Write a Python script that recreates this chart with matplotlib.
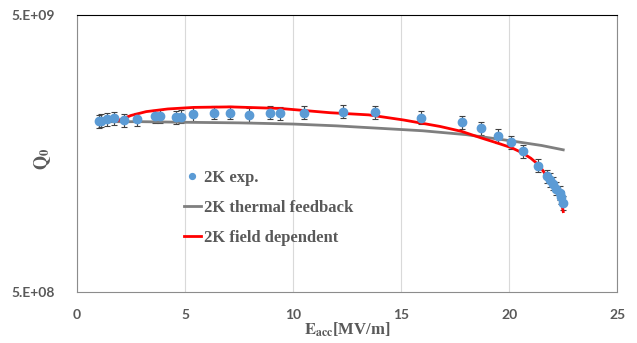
import matplotlib
matplotlib.use("Agg")
import matplotlib.pyplot as plt
from matplotlib.ticker import FixedLocator, NullLocator

# measured points (2K)
e_exp = [1.0, 1.1, 1.37, 1.73, 2.19, 2.79, 3.61, 3.84, 4.58, 4.80, 5.38, 6.34, 7.10,
         7.96, 8.94, 9.41, 10.48, 12.33, 13.80, 15.93, 17.82, 18.70, 19.48, 20.06,
         20.66, 21.31, 21.76, 21.90, 22.02, 22.18, 22.33, 22.41, 22.49]
q_exp = [2.07e9, 2.08e9, 2.10e9, 2.12e9, 2.09e9, 2.10e9, 2.16e9, 2.16e9, 2.14e9, 2.15e9,
         2.20e9, 2.22e9, 2.22e9, 2.18e9, 2.22e9, 2.21e9, 2.22e9, 2.24e9, 2.23e9, 2.13e9,
         2.05e9, 1.95e9, 1.83e9, 1.74e9, 1.61e9, 1.43e9, 1.31e9, 1.27e9, 1.23e9,
         1.18e9, 1.14e9, 1.10e9, 1.05e9]
err_frac = 0.055

# thermal feedback model
e_tf = [1.0, 3.0, 5.0, 7.5, 10.0, 12.0, 14.0, 16.0, 18.0, 20.0, 21.5, 22.5]
q_tf = [2.06e9, 2.06e9, 2.05e9, 2.04e9, 2.02e9, 1.99e9, 1.95e9, 1.91e9, 1.85e9,
        1.76e9, 1.69e9, 1.63e9]

# field dependent model
e_fd = [1.9, 2.5, 3.2, 4.2, 5.4, 7.1, 9.4, 11.7, 13.5, 15.1, 16.8, 17.8, 18.7,
        19.4, 20.1, 20.6, 21.0, 21.4, 21.7, 22.0, 22.2, 22.4, 22.5]
q_fd = [2.08e9, 2.17e9, 2.24e9, 2.29e9, 2.32e9, 2.33e9, 2.30e9, 2.22e9, 2.18e9,
        2.09e9, 1.98e9, 1.90e9, 1.80e9, 1.73e9, 1.66e9, 1.59e9, 1.52e9, 1.43e9,
        1.32e9, 1.24e9, 1.17e9, 1.07e9, 0.975e9]

x_ticks = [0, 5, 10, 15, 20, 25]
y_ticks = [5e8, 5e9]
y_tick_labels = ["5.E+08", "5.E+09"]

plt.rcParams["mathtext.fontset"] = "stix"
txt_gray = "#595959"

fig = plt.figure(figsize=(6.37, 3.43), dpi=100)
ax = fig.add_axes([0.121, 0.149, 0.848, 0.807])

ax.set_yscale("log")
ax.set_xlim(0, 25)
ax.set_ylim(5e8, 5e9)

ax.xaxis.set_major_locator(FixedLocator(x_ticks))
ax.yaxis.set_major_locator(FixedLocator(y_ticks))
ax.yaxis.set_minor_locator(NullLocator())
ax.set_yticklabels(y_tick_labels)
ax.grid(True, axis="x", color="#d9d9d9", linewidth=0.8)
ax.set_axisbelow(True)

ax.tick_params(length=0, labelsize=10, labelcolor=txt_gray)
ax.tick_params(axis="x", pad=12)
ax.tick_params(axis="y", pad=16)
for lab in ax.get_xticklabels() + ax.get_yticklabels():
    lab.set_fontfamily("Lato")
    lab.set_fontweight("bold")

for side in ["left", "bottom", "right"]:
    ax.spines[side].set_color("#8c8c8c")
ax.spines["top"].set_color("black")

yerr = [q * err_frac for q in q_exp]
ax.errorbar(e_exp, q_exp, yerr=yerr, fmt="none", ecolor="#404040",
            elinewidth=0.8, capsize=2.5, capthick=0.8, zorder=2)
ax.plot(e_exp, q_exp, "o", color="#5b9bd5", markersize=6, label="2K exp.", zorder=4)
ax.plot(e_tf, q_tf, "-", color="#7f7f7f", linewidth=2, label="2K thermal feedback", zorder=3)
ax.plot(e_fd, q_fd, "-", color="#ff0000", linewidth=2, label="2K field dependent", zorder=3)

leg = ax.legend(loc="upper left", bbox_to_anchor=(0.17, 0.495), frameon=False,
                handlelength=1.0, handletextpad=0.2, labelspacing=0.85, markerscale=0.7,
                prop={"family": "Liberation Serif", "weight": "bold", "size": 12})
for t in leg.get_texts():
    t.set_color(txt_gray)

ax.set_xlabel(r"$\mathbf{E}_{\mathbf{acc}}$[MV/m]", fontfamily="Liberation Serif",
              fontweight="bold", fontsize=12, color=txt_gray, labelpad=0)
ax.set_ylabel(r"$\mathbf{Q}_{\mathbf{0}}$", fontsize=13, color=txt_gray)
ax.yaxis.set_label_coords(-0.045, 0.48)

fig.savefig("out.png", dpi=100)
